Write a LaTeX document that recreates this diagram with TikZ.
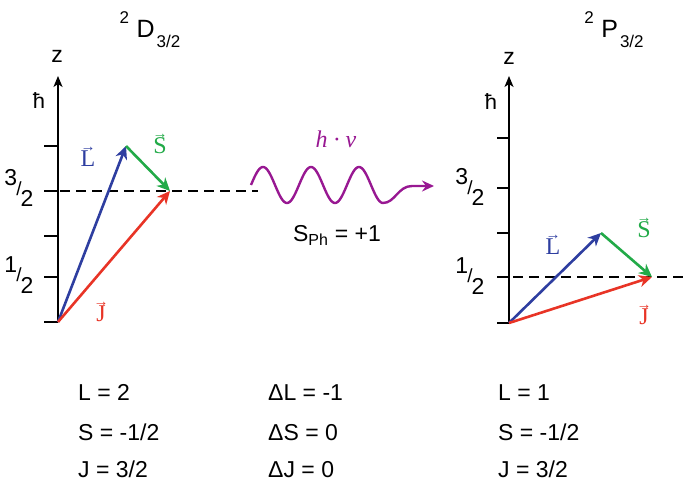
\documentclass[tikz,border=0pt]{standalone}
\usepackage{fontspec}
\setmainfont{Liberation Sans}
\newfontfamily\serif{Liberation Serif}
\usetikzlibrary{arrows.meta}

\definecolor{vecblue}{RGB}{46,62,160}
\definecolor{vecred}{RGB}{232,52,38}
\definecolor{vecgreen}{RGB}{34,170,72}
\definecolor{photon}{RGB}{152,24,146}

% fraction labels at the ticks, like 3/2
\newcommand{\fraclbl}[2]{\raisebox{0.42em}{#1}\kern-0.04em{\fontsize{19}{21}\selectfont/}\kern-0.04em\raisebox{-0.5em}{#2}}
% term symbols
\newcommand{\termsym}[1]{\raisebox{0.55em}{\fontsize{17}{19}\selectfont 2}\kern0.3em#1\kern0.08em\raisebox{-0.42em}{\fontsize{17}{19}\selectfont 3/2}}
% letter with a small arrow above it
\newcommand{\vecsym}[1]{\setbox0\hbox{#1}\rlap{\raisebox{0.62em}{\makebox[\wd0]{\fontsize{15}{15}\selectfont →}}}\box0}

\begin{document}
\begin{tikzpicture}[x=1pt,y=-1pt]
    \tikzstyle{lbl}=[inner sep=0pt, font=\fontsize{23}{27}\selectfont];
    \tikzstyle{title}=[inner sep=0pt, font=\fontsize{25}{29}\selectfont];
    \tikzstyle{small}=[inner sep=0pt, font=\fontsize{22}{25}\selectfont];
    \tikzstyle{veclbl}=[inner sep=0pt, font=\serif\fontsize{24}{28}\selectfont];
    \tikzstyle{axis}=[line width=1.8pt, -{Stealth[length=11pt,width=9pt,inset=3pt]}];
    \tikzstyle{tick}=[line width=1.6pt];
    \tikzstyle{level}=[line width=1.3pt, dash pattern=on 10pt off 6pt];
    \tikzstyle{vec}=[line width=2.6pt, -{Stealth[length=13pt,width=12pt,inset=4pt]}];
    \tikzstyle{wave}=[photon, line width=2.4pt, -{Stealth[length=12pt,width=11pt,inset=4pt]}];

    \useasboundingbox (0,0) rectangle (685,486);

    % left: 2D 3/2
    \node (ltitle) at (150,30) [title] {\termsym{D}};
    \coordinate (lo) at (58,322);
    \coordinate (ltop) at (58,76);
    \draw[axis] (lo) -- (ltop);
    \foreach \y in {146,191,236,277,322}
        \draw[tick] (44,\y) -- (58,\y);
    \node (lz) at (57,56) [lbl] {z};
    \node (lhbar) at (39,101) [small] {ħ};
    \node (lthree) at (19,188) [lbl] {\fraclbl{3}{2}};
    \node (lone) at (19,275) [lbl] {\fraclbl{1}{2}};

    \coordinate (lL) at (126,146);
    \coordinate (lJ) at (170,191);
    \coordinate (lend) at (258,191);
    \draw[level] (44,191) -- (lend);
    \draw[vec, vecblue] (lo) -- (lL);
    \draw[vec, vecgreen] (lL) -- (lJ);
    \draw[vec, vecred] (lo) -- (lJ);
    \node (lLlbl) at (88,157) [veclbl, vecblue] {\vecsym{L}};
    \node (lSlbl) at (160,144) [veclbl, vecgreen] {\vecsym{S}};
    \node (lJlbl) at (101,312) [veclbl, vecred] {\vecsym{J}};

    % photon
    \coordinate (wtip) at (434,186);
    \draw[wave] plot[domain=251:383, samples=120, smooth] (\x, {185-18*sin(7.5*(\x-251))})
        .. controls (395,203) and (398,186) .. (412,186) -- (wtip);
    \node (hnu) at (336,148) [veclbl, photon, anchor=base] {\itshape h · ν};
    \node (sph) at (337,242) [lbl, anchor=base] {S\textsubscript{\fontsize{16}{18}\selectfont Ph} = +1};

    % right: 2P 3/2
    \node (rtitle) at (614,30) [title] {\termsym{P}};
    \coordinate (ro) at (509,323);
    \coordinate (rtop) at (509,76);
    \draw[axis] (ro) -- (rtop);
    \foreach \y in {138,188,233,277,323}
        \draw[tick] (497,\y) -- (509,\y);
    \node (rz) at (509,58) [lbl] {z};
    \node (rhbar) at (491,102) [small] {ħ};
    \node (rthree) at (470,187) [lbl] {\fraclbl{3}{2}};
    \node (rone) at (470,276) [lbl] {\fraclbl{1}{2}};

    \coordinate (rL) at (601,233);
    \coordinate (rJ) at (652,277);
    \coordinate (rend) at (685,277);
    \draw[level] (497,277) -- (rend);
    \draw[vec, vecblue] (ro) -- (rL);
    \draw[vec, vecgreen] (rL) -- (rJ);
    \draw[vec, vecred] (ro) -- (rJ);
    \node (rLlbl) at (553,245) [veclbl, vecblue] {\vecsym{L}};
    \node (rSlbl) at (644,228) [veclbl, vecgreen] {\vecsym{S}};
    \node (rJlbl) at (644,315) [veclbl, vecred] {\vecsym{J}};

    % quantum numbers
    \node (lqL) at (78,400) [lbl, anchor=base west] {L = 2};
    \node (lqS) at (78,440) [lbl, anchor=base west] {S = -1/2};
    \node (lqJ) at (78,477) [lbl, anchor=base west] {J = 3/2};

    \node (dL) at (268,400) [lbl, anchor=base west] {ΔL = -1};
    \node (dS) at (268,440) [lbl, anchor=base west] {ΔS = 0};
    \node (dJ) at (268,477) [lbl, anchor=base west] {ΔJ = 0};

    \node (rqL) at (498,400) [lbl, anchor=base west] {L = 1};
    \node (rqS) at (498,440) [lbl, anchor=base west] {S = -1/2};
    \node (rqJ) at (498,477) [lbl, anchor=base west] {J = 3/2};

\end{tikzpicture}
\end{document}
